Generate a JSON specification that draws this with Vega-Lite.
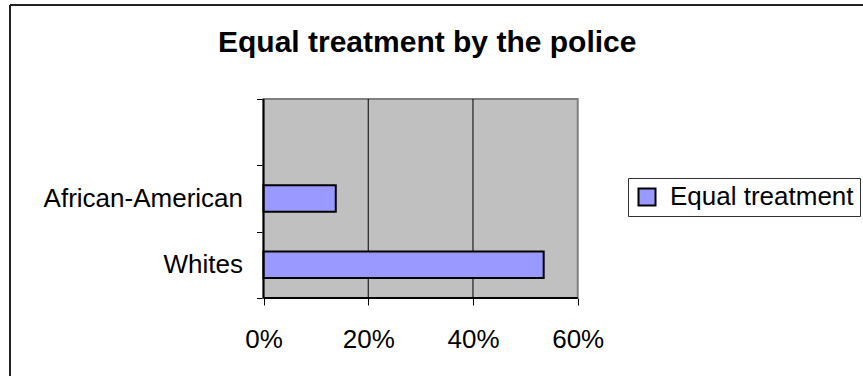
{
  "$schema": "https://vega.github.io/schema/vega-lite/v6.json",
  "autosize": "none",
  "width": 853,
  "height": 331.667,
  "padding": {"left": 10, "top": 5, "right": 0, "bottom": 39.333},
  "background": "white",
  "config": {
    "view": {"stroke": null},
    "font": "Liberation Sans"
  },
  "title": {
    "text": "Equal treatment by the police",
    "font": "Liberation Sans",
    "fontSize": 30,
    "fontWeight": "bold",
    "color": "black",
    "frame": "group",
    "anchor": "start",
    "dx": 208,
    "dy": 43,
    "offset": -47,
    "baseline": "alphabetic"
  },
  "data": {
    "values": [
      {"group": "African-American", "share": 0.138, "series": "Equal treatment"},
      {"group": "Whites", "share": 0.535, "series": "Equal treatment"}
    ]
  },
  "resolve": {"scale": {"y": "independent"}},
  "layer": [
    {
      "data": {"values": [{}]},
      "mark": {"type": "rect", "fill": "#c0c0c0", "stroke": "#808080", "strokeWidth": 2},
      "encoding": {
        "x": {"datum": 0, "type": "quantitative"},
        "x2": {"datum": 0.6},
        "y": {"datum": 0, "type": "quantitative", "axis": null,
              "scale": {"domain": [-0.19431, 1.47236], "nice": false, "zero": false}},
        "y2": {"datum": 1}
      }
    },
    {
      "data": {"values": [{"g": 0.2}, {"g": 0.4}]},
      "mark": {"type": "rule", "color": "black", "strokeWidth": 1},
      "encoding": {
        "x": {"field": "g", "type": "quantitative"},
        "y": {"datum": 0, "type": "quantitative", "axis": null,
              "scale": {"domain": [-0.19431, 1.47236], "nice": false, "zero": false}},
        "y2": {"datum": 1}
      }
    },
    {
      "mark": {"type": "bar", "height": {"band": 0.4}, "stroke": "black", "strokeWidth": 2},
      "encoding": {
        "y": {
          "field": "group",
          "type": "nominal",
          "sort": null,
          "scale": {
            "domain": [" ", "African-American", "Whites"],
            "paddingInner": 0,
            "paddingOuter": 1,
            "align": 0.70854,
            "round": false
          },
          "axis": {
            "orient": "left",
            "offset": -253.5,
            "domain": false,
            "grid": false,
            "tickBand": "extent",
            "tickSize": 7,
            "tickColor": "black",
            "tickWidth": 1,
            "labelFont": "Liberation Sans",
            "labelFontSize": 26,
            "labelColor": "black",
            "labelPadding": 14,
            "labelLimit": 400,
            "title": null
          }
        },
        "x": {
          "field": "share",
          "type": "quantitative",
          "scale": {"domain": [-0.48406, 1.14474], "nice": false, "zero": false},
          "axis": {
            "orient": "bottom",
            "offset": -38.667,
            "values": [0, 0.2, 0.4, 0.6],
            "format": ".0%",
            "domain": false,
            "grid": false,
            "tickSize": 7,
            "tickColor": "black",
            "tickWidth": 1,
            "labelFont": "Liberation Sans",
            "labelFontSize": 26,
            "labelColor": "black",
            "labelPadding": 21,
            "labelFlush": false,
            "labelLimit": 400,
            "title": null
          }
        },
        "x2": {"datum": 0},
        "color": {
          "field": "series",
          "type": "nominal",
          "scale": {"range": ["#9999ff"]},
          "legend": {
            "orient": "none",
            "legendX": 618,
            "legendY": 173,
            "title": null,
            "strokeColor": "#333333",
            "fillColor": "white",
            "padding": 6,
            "symbolType": "square",
            "symbolSize": 289,
            "symbolStrokeColor": "black",
            "symbolStrokeWidth": 2,
            "symbolOpacity": 1,
            "labelFont": "Liberation Sans",
            "labelFontSize": 26,
            "labelColor": "black",
            "labelOffset": 10,
            "labelLimit": 400
          }
        }
      }
    },
    {
      "data": {"values": [{}]},
      "mark": {"type": "rule", "color": "black", "strokeWidth": 2},
      "encoding": {
        "x": {"datum": 0, "type": "quantitative"},
        "y": {"datum": 0, "type": "quantitative", "axis": null,
              "scale": {"domain": [-0.19431, 1.47236], "nice": false, "zero": false}},
        "y2": {"datum": 1}
      }
    },
    {
      "data": {"values": [{}]},
      "mark": {"type": "rule", "color": "black", "strokeWidth": 2},
      "encoding": {
        "x": {"datum": 0, "type": "quantitative"},
        "x2": {"datum": 0.6},
        "y": {"datum": 0, "type": "quantitative", "axis": null,
              "scale": {"domain": [-0.19431, 1.47236], "nice": false, "zero": false}}
      }
    },
    {
      "data": {"values": [{}]},
      "mark": {"type": "rule", "color": "#222222", "strokeWidth": 2},
      "encoding": {
        "x": {"datum": -0.48406, "type": "quantitative"},
        "y": {"datum": -0.45, "type": "quantitative", "axis": null,
              "scale": {"domain": [-0.19431, 1.47236], "nice": false, "zero": false}},
        "y2": {"datum": 1.47236}
      }
    },
    {
      "data": {"values": [{}]},
      "mark": {"type": "rule", "color": "#222222", "strokeWidth": 2},
      "encoding": {
        "y": {"datum": 1.47236, "type": "quantitative", "axis": null,
              "scale": {"domain": [-0.19431, 1.47236], "nice": false, "zero": false}}
      }
    }
  ]
}
